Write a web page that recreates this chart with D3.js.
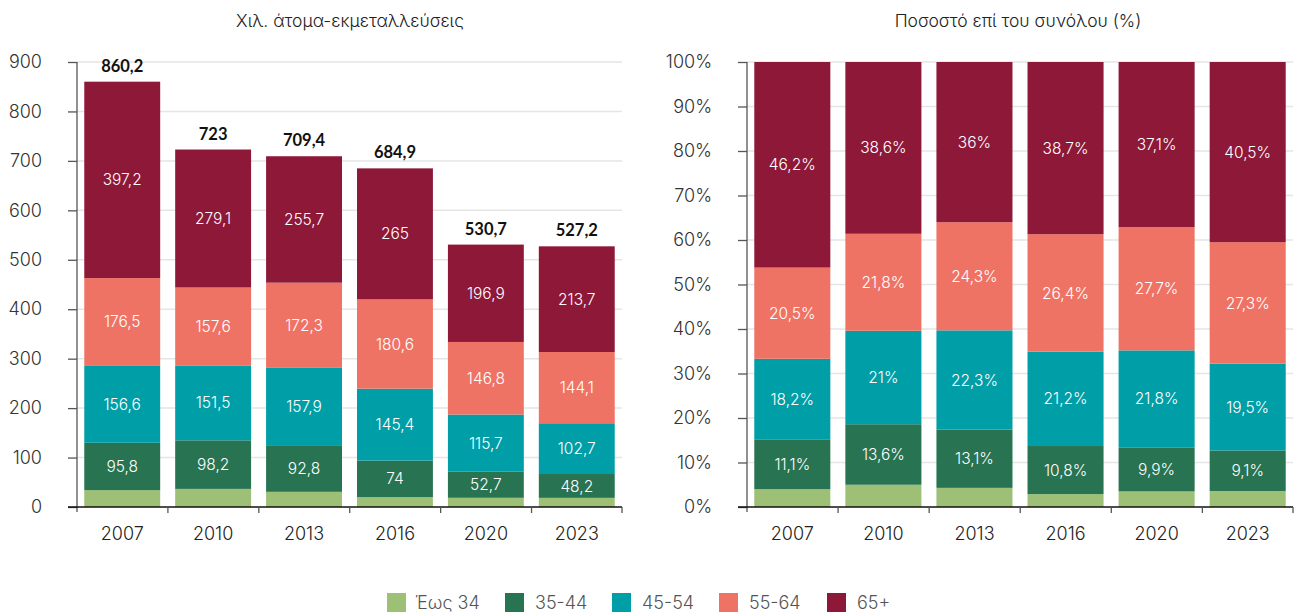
<!DOCTYPE html>
<html><head><meta charset="utf-8">
<script src="https://cdn.jsdelivr.net/npm/d3@7"></script>
<style>
body{margin:0;background:#fff;}
svg text{font-family:Inter,"Noto Sans",sans-serif;font-weight:300;}
</style></head>
<body>
<svg id="c" width="1295" height="615"></svg>
<script>
const years = ["2007","2010","2013","2016","2020","2023"];
const groups = ["Έως 34","35-44","45-54","55-64","65+"];
const colors = ["#9dc076","#277352","#009ea7","#ef7365","#8d1838"];
// thousands
const absUpTo34 = [34.1,36.6,30.7,19.9,18.6,18.5];
const abs35_44 = [95.8,98.2,92.8,74,52.7,48.2];
const abs45_54 = [156.6,151.5,157.9,145.4,115.7,102.7];
const abs55_64 = [176.5,157.6,172.3,180.6,146.8,144.1];
const abs65 = [397.2,279.1,255.7,265,196.9,213.7];
const totals = [860.2,723,709.4,684.9,530.7,527.2];
// percent
const pctUpTo34 = [4.0,5.0,4.3,2.9,3.5,3.6];
const pct35_44 = [11.1,13.6,13.1,10.8,9.9,9.1];
const pct45_54 = [18.2,21,22.3,21.2,21.8,19.5];
const pct55_64 = [20.5,21.8,24.3,26.4,27.7,27.3];
const pct65 = [46.2,38.6,36,38.7,37.1,40.5];
const leftTicks = [0,100,200,300,400,500,600,700,800,900];
const rightTicks = [0,10,20,30,40,50,60,70,80,90,100];

const FONT = "Inter,'Noto Sans',sans-serif";
const svg = d3.select("#c");
const fmt = v => String(v).replace(".", ",");

function chart(opts){
  const {x0,x1,y0,y1,max,ticks,series,tickFmt,labelFmt,totalVals,title,titleX} = opts;
  const g = svg.append("g");
  const x = d3.scaleBand().domain(years).range([x0,x1]).paddingInner(0.165).paddingOuter(0.08);
  const y = d3.scaleLinear().domain([0,max]).range([y0,y1]);
  g.selectAll(".grid").data(ticks.filter(t=>t>0)).join("line")
    .attr("x1",x0).attr("x2",x1).attr("y1",d=>y(d)).attr("y2",d=>y(d))
    .attr("stroke","#e5e5e5").attr("stroke-width",1.5);
  const rows = years.map((yr,i)=>{const o={year:yr}; groups.forEach((k,j)=>o[k]=series[j][i]); return o;});
  const stacked = d3.stack().keys(groups)(rows);
  stacked.forEach((layer,j)=>{
    g.append("g").selectAll("rect").data(layer).join("rect")
      .attr("x",d=>x(d.data.year)).attr("width",x.bandwidth())
      .attr("y",d=>y(d[1])).attr("height",d=>y(d[0])-y(d[1]))
      .attr("fill",colors[j]);
    if(j>0){
      g.append("g").selectAll("text").data(layer).join("text")
        .attr("x",d=>x(d.data.year)+x.bandwidth()/2)
        .attr("y",d=>(y(d[0])+y(d[1]))/2)
        .attr("dy","0.36em").attr("text-anchor","middle")
        .attr("fill","#fff").attr("font-size",15.5).attr("font-weight",400)
        .text((d,i)=>labelFmt(series[j][i]));
    }
  });
  if(totalVals){
    g.append("g").selectAll("text").data(totalVals).join("text")
      .attr("x",(d,i)=>x(years[i])+x.bandwidth()/2)
      .attr("y",d=>y(d)-10).attr("text-anchor","middle")
      .attr("font-size",16.5).attr("font-weight","bold").attr("fill","#111")
      .style("font-family","Lato,'Noto Sans',sans-serif").style("font-weight","bold")
      .text(d=>fmt(d));
  }
  const ya = g.append("g").attr("transform",`translate(${x0},0)`)
    .call(d3.axisLeft(y).tickValues(ticks).tickSize(9).tickPadding(26).tickFormat(tickFmt));
  ya.select(".domain").attr("stroke","#555").attr("stroke-width",1.3).attr("d",`M0,${y0+5}V${y1}`);
  ya.selectAll(".tick line").attr("stroke","#555").attr("stroke-width",1.3);
  ya.selectAll(".tick text").attr("font-size",18).attr("fill","#333").attr("font-family",FONT).attr("font-weight",300);
  g.append("line").attr("x1",x0-9).attr("x2",x1).attr("y1",y0).attr("y2",y0).attr("stroke","#111").attr("stroke-width",1.5);
  const bounds = years.map((yr,i)=>x0+i*x.step()).concat([x1]);
  g.selectAll(".xt").data(bounds.slice(1)).join("line")
    .attr("x1",d=>d).attr("x2",d=>d).attr("y1",y0).attr("y2",y0+6)
    .attr("stroke","#555").attr("stroke-width",1.3);
  g.selectAll(".xl").data(years).join("text")
    .attr("x",d=>x(d)+x.bandwidth()/2).attr("y",y0+33)
    .attr("text-anchor","middle").attr("font-size",18).attr("fill","#222").text(d=>d);
  svg.append("text").attr("x",titleX).attr("y",27).attr("text-anchor","middle")
    .attr("font-size",17.5).attr("fill","#222").text(title);
}

chart({x0:77,x1:622,y0:507,y1:62,max:900,ticks:leftTicks,
  series:[absUpTo34,abs35_44,abs45_54,abs55_64,abs65],
  tickFmt:d=>d, labelFmt:v=>fmt(v), totalVals:totals,
  title:"Χιλ. άτομα-εκμεταλλεύσεις", titleX:350});
chart({x0:747,x1:1293,y0:507,y1:62,max:100,ticks:rightTicks,
  series:[pctUpTo34,pct35_44,pct45_54,pct55_64,pct65],
  tickFmt:d=>d+"%", labelFmt:v=>fmt(v)+"%", totalVals:null,
  title:"Ποσοστό επί του συνόλου (%)", titleX:1018});

const legX = [387,505,612,719,827];
const lg = svg.append("g");
groups.forEach((k,i)=>{
  lg.append("rect").attr("x",legX[i]).attr("y",593).attr("width",19).attr("height",19).attr("fill",colors[i]);
  lg.append("text").attr("x",legX[i]+(i===0?28:30)).attr("y",609).attr("font-size",18).attr("fill","#555").text(k);
});
</script>
</body></html>
